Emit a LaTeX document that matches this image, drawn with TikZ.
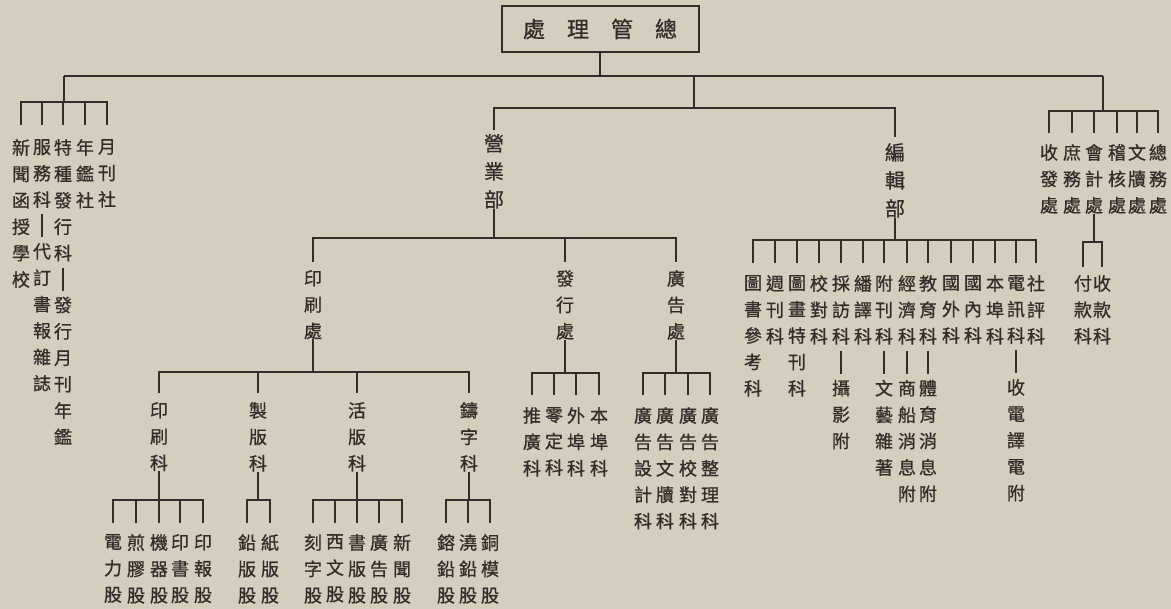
\documentclass[tikz,border=0pt]{standalone}
\usepackage{fontspec}
\newfontfamily\cjk{Noto Sans CJK TC}[FakeBold=0.8]
\usetikzlibrary{positioning}
\definecolor{paper}{RGB}{213,205,190}
\definecolor{ink}{RGB}{50,45,40}
\tikzset{%
	link/.style={draw=ink, line width=2pt},
	drop/.style={link, shorten >=#1, to path={-| (\tikztotarget)}},
	drop/.default=10pt,
	hq/.style={draw=ink, line width=2pt, minimum width=197pt, minimum height=46pt,%
		inner sep=0pt, font=\cjk\fontsize{22}{22}\selectfont},
	dept/.style={anchor=north, inner sep=0pt, align=center, font=\cjk\fontsize{20}{28}\selectfont},
	col/.style={anchor=north, inner sep=0pt, align=center, font=\cjk\fontsize{18}{26.4}\selectfont},
	bar/.style={link, shorten <=6pt, shorten >=6pt}
}
\begin{document}
\begin{tikzpicture}[x=1pt, y=-1pt, every node/.style={text=ink}]
	\fill[paper] (0,0) rectangle (1171,609);
	\useasboundingbox (0,0) rectangle (1171,609);
	% head office
	\node[hq] (zg) at (600,29) {處\hspace{22pt}理\hspace{22pt}管\hspace{22pt}總};
	\coordinate (main) at (600,76);
	\coordinate (main-l) at (64,76);
	\coordinate (main-m) at (694,76);
	\coordinate (main-r) at (1103,76);
	\coordinate (mid-bus) at (694,108);
	\draw[link] (zg) -- (main);
	\draw[link] (main-l) -- (main-r);
	\draw[link] (main-m) -- (mid-bus);
	% left group
	\coordinate (xw-bus) at (64,102);
	\node[col] (xw1) at (21,139) {新\\聞\\函\\授\\學\\校};
	\node[col] (xw2a) at (42,139) {服\\務\\科};
	\node[col, below=35pt of xw2a] (xw2b) {代\\訂\\書\\報\\雜\\誌};
	\node[col] (xw3a) at (63,139) {特\\種\\發\\行\\科};
	\node[col, below=35pt of xw3a] (xw3b) {發\\行\\月\\刊\\年\\鑑};
	\node[col] (xw4) at (85,139) {年\\鑑\\社};
	\node[col] (xw5) at (107,139) {月\\刊\\社};
	\path (main-l) edge[link] (xw-bus);
	\path (xw-bus) edge[drop=14pt] (xw1) edge[drop=14pt] (xw2a) edge[drop=14pt] (xw3a)
		edge[drop=14pt] (xw4) edge[drop=14pt] (xw5);
	\draw[bar] (xw2a) -- (xw2b);
	\draw[bar] (xw3a) -- (xw3b);
	% business department
	\node[dept] (yy) at (494,134) {營\\業\\部};
	\coordinate (yy-bus) at (494,238);
	\node[col] (ys) at (313,270) {印\\刷\\處};
	\node[col] (fx) at (565,270) {發\\行\\處};
	\node[col] (gg) at (676,270) {廣\\告\\處};
	\path (mid-bus) edge[drop=4pt] (yy);
	\path (yy) edge[link] (yy-bus);
	\path (yy-bus) edge[drop=8pt] (ys) edge[drop=8pt] (fx) edge[drop=8pt] (gg);
	% printing
	\coordinate (ys-bus) at (313,372);
	\node[col] (ys1) at (159,402) {印\\刷\\科};
	\node[col] (ys2) at (258,402) {製\\版\\科};
	\node[col] (ys3) at (357,402) {活\\版\\科};
	\node[col] (ys4) at (469,402) {鑄\\字\\科};
	\path (ys) edge[link] (ys-bus);
	\path (ys-bus) edge[drop=9pt] (ys1) edge[drop=9pt] (ys2) edge[drop=9pt] (ys3) edge[drop=9pt] (ys4);
	\coordinate (ys1-bus) at (159,500);
	\coordinate (ys2-bus) at (258,500);
	\coordinate (ys3-bus) at (357,500);
	\coordinate (ys4-bus) at (469,500);
	\node[col] (ys1a) at (113,534) {電\\力\\股};
	\node[col] (ys1b) at (136,534) {煎\\膠\\股};
	\node[col] (ys1c) at (159,534) {機\\器\\股};
	\node[col] (ys1d) at (180,534) {印\\書\\股};
	\node[col] (ys1e) at (203,534) {印\\報\\股};
	\node[col] (ys2a) at (247,534) {鉛\\版\\股};
	\node[col] (ys2b) at (270,534) {紙\\版\\股};
	\node[col] (ys3a) at (313,534) {刻\\字\\股};
	\node[col] (ys3b) at (335,534) {西\\文\\股};
	\node[col] (ys3c) at (357,534) {書\\版\\股};
	\node[col] (ys3d) at (379,534) {廣\\告\\股};
	\node[col] (ys3e) at (402,534) {新\\聞\\股};
	\node[col] (ys4a) at (446,534) {鎔\\鉛\\股};
	\node[col] (ys4b) at (468,534) {澆\\鉛\\股};
	\node[col] (ys4c) at (490,534) {銅\\模\\股};
	\path (ys1) edge[link] (ys1-bus) (ys2) edge[link] (ys2-bus) (ys3) edge[link] (ys3-bus) (ys4) edge[link] (ys4-bus);
	\path (ys1-bus) edge[drop=11pt] (ys1a) edge[drop=11pt] (ys1b) edge[drop=11pt] (ys1c)
		edge[drop=11pt] (ys1d) edge[drop=11pt] (ys1e);
	\path (ys2-bus) edge[drop=11pt] (ys2a) edge[drop=11pt] (ys2b);
	\path (ys3-bus) edge[drop=11pt] (ys3a) edge[drop=11pt] (ys3b) edge[drop=11pt] (ys3c)
		edge[drop=11pt] (ys3d) edge[drop=11pt] (ys3e);
	\path (ys4-bus) edge[drop=11pt] (ys4a) edge[drop=11pt] (ys4b) edge[drop=11pt] (ys4c);
	% distribution and advertising
	\coordinate (fx-bus) at (565,373);
	\coordinate (gg-bus) at (676,373);
	\node[col] (fx1) at (532,407) {推\\廣\\科};
	\node[col] (fx2) at (554,407) {零\\定\\科};
	\node[col] (fx3) at (576,407) {外\\埠\\科};
	\node[col] (fx4) at (599,407) {本\\埠\\科};
	\node[col] (gg1) at (643,407) {廣\\告\\設\\計\\科};
	\node[col] (gg2) at (665,407) {廣\\告\\文\\牘\\科};
	\node[col] (gg3) at (688,407) {廣\\告\\校\\對\\科};
	\node[col] (gg4) at (710,407) {廣\\告\\整\\理\\科};
	\path (fx) edge[link] (fx-bus) (gg) edge[link] (gg-bus);
	\path (fx-bus) edge[drop=12pt] (fx1) edge[drop=12pt] (fx2) edge[drop=12pt] (fx3) edge[drop=12pt] (fx4);
	\path (gg-bus) edge[drop=12pt] (gg1) edge[drop=12pt] (gg2) edge[drop=12pt] (gg3) edge[drop=12pt] (gg4);
	% editorial department
	\node[dept] (bj) at (895,143) {編\\輯\\部};
	\coordinate (bj-bus) at (895,240);
	\path (mid-bus) edge[drop=6pt] (bj);
	\path (bj) edge[link] (bj-bus);
	\node[col] (bj1) at (753,275) {圖\\書\\參\\考\\科};
	\node[col] (bj2) at (775,275) {週\\刊\\科};
	\node[col] (bj3) at (797,275) {圖\\畫\\特\\刊\\科};
	\node[col] (bj4) at (819,275) {校\\對\\科};
	\node[col] (bj5) at (841,275) {採\\訪\\科};
	\node[col] (bj6) at (863,275) {繙\\譯\\科};
	\node[col] (bj7) at (884,275) {附\\刊\\科};
	\node[col] (bj8) at (907,275) {經\\濟\\科};
	\node[col] (bj9) at (928,275) {教\\育\\科};
	\node[col] (bj10) at (951,275) {國\\外\\科};
	\node[col] (bj11) at (973,275) {國\\內\\科};
	\node[col] (bj12) at (995,275) {本\\埠\\科};
	\node[col] (bj13) at (1016,275) {電\\訊\\科};
	\node[col] (bj14) at (1036,275) {社\\評\\科};
	\path (bj-bus) edge[drop=12pt] (bj1) edge[drop=12pt] (bj2) edge[drop=12pt] (bj3)
		edge[drop=12pt] (bj4) edge[drop=12pt] (bj5) edge[drop=12pt] (bj6) edge[drop=12pt] (bj7)
		edge[drop=12pt] (bj8) edge[drop=12pt] (bj9) edge[drop=12pt] (bj10) edge[drop=12pt] (bj11)
		edge[drop=12pt] (bj12) edge[drop=12pt] (bj13) edge[drop=12pt] (bj14);
	\node[col, below=35pt of bj5] (bj5s) {攝\\影\\附};
	\node[col, below=35pt of bj7] (bj7s) {文\\藝\\雜\\著};
	\node[col, below=35pt of bj8] (bj8s) {商\\船\\消\\息\\附};
	\node[col, below=35pt of bj9] (bj9s) {體\\育\\消\\息\\附};
	\node[col, below=35pt of bj13] (bj13s) {收\\電\\譯\\電\\附};
	\draw[bar] (bj5) -- (bj5s);
	\draw[bar] (bj7) -- (bj7s);
	\draw[bar] (bj8) -- (bj8s);
	\draw[bar] (bj9) -- (bj9s);
	\draw[bar] (bj13) -- (bj13s);
	% offices on the right
	\coordinate (sw-bus) at (1103,111);
	\node[col] (sw1) at (1049,144) {收\\發\\處};
	\node[col] (sw2) at (1072,144) {庶\\務\\處};
	\node[col] (sw3) at (1094,144) {會\\計\\處};
	\node[col] (sw4) at (1117,144) {稽\\核\\處};
	\node[col] (sw5) at (1137,144) {文\\牘\\處};
	\node[col] (sw6) at (1158,144) {總\\務\\處};
	\path (main-r) edge[link] (sw-bus);
	\path (sw-bus) edge[drop=11pt] (sw1) edge[drop=11pt] (sw2) edge[drop=11pt] (sw3)
		edge[drop=11pt] (sw4) edge[drop=11pt] (sw5) edge[drop=11pt] (sw6);
	\coordinate (sw3-bus) at (1094,242);
	\node[col] (kj1) at (1083,275) {付\\款\\科};
	\node[col] (kj2) at (1102,275) {收\\款\\科};
	\path (sw3) edge[link] (sw3-bus);
	\path (sw3-bus) edge[drop=8pt] (kj1) edge[drop=8pt] (kj2);
\end{tikzpicture}
\end{document}
